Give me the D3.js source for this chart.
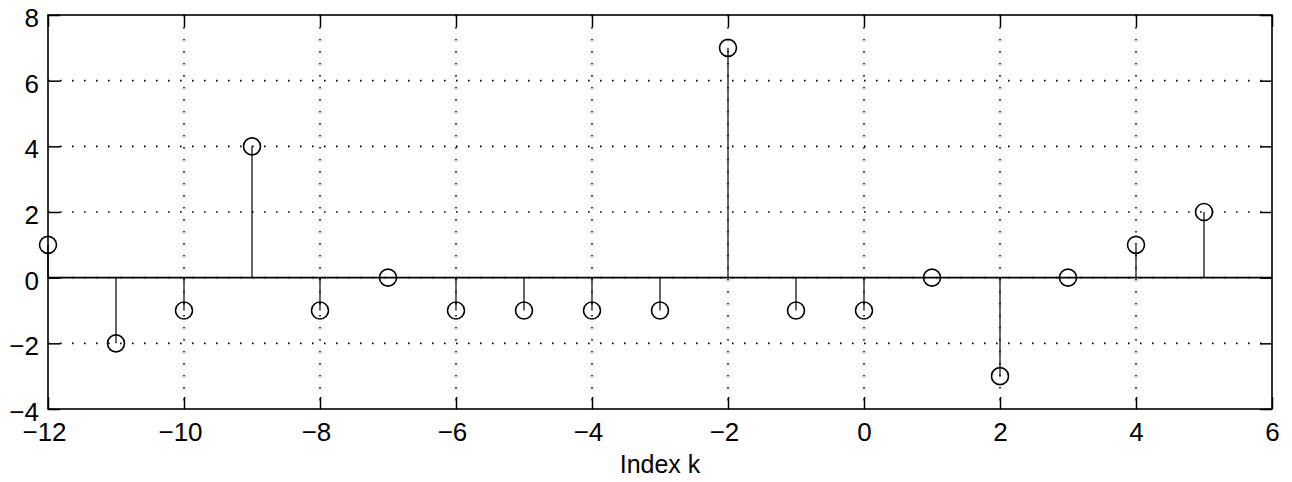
<!DOCTYPE html>
<html lang="en">
<head>
<meta charset="utf-8">
<script src="https://d3js.org/d3.v7.min.js"></script>
<title>Stem plot</title>
<style>
  body { margin: 0; background: #fff; }
  text { font-family: "Liberation Sans", Arial, Helvetica, sans-serif; fill: #000; }
</style>
</head>
<body>
<svg id="chart"></svg>
<script>
  // data
  const indexK = [-12, -11, -10, -9, -8, -7, -6, -5, -4, -3, -2, -1, 0, 1, 2, 3, 4, 5];
  const values = [1, -2, -1, 4, -1, 0, -1, -1, -1, -1, 7, -1, -1, 0, -3, 0, 1, 2];
  const xTicks = [-12, -10, -8, -6, -4, -2, 0, 2, 4, 6];
  const yTicks = [-4, -2, 0, 2, 4, 6, 8];

  const W = 1292, H = 482;
  const m = {left: 48, right: 20, top: 15, bottom: 73};
  const iw = W - m.left - m.right, ih = H - m.top - m.bottom;

  const svg = d3.select("#chart").attr("width", W).attr("height", H);
  const g = svg.append("g").attr("transform", `translate(${m.left},${m.top})`);

  const x = d3.scaleLinear().domain([-12, 6]).range([0, iw]);
  const y = d3.scaleLinear().domain([-4, 8]).range([ih, 0]);

  const fmt = d => d < 0 ? "\u2212" + Math.abs(d) : d;

  // dotted grid
  g.append("g").selectAll("line").data(xTicks.slice(1, -1)).join("line")
    .attr("x1", d => x(d)).attr("x2", d => x(d)).attr("y1", 0).attr("y2", ih)
    .attr("stroke", "#000").attr("stroke-width", 1.6).attr("stroke-dasharray", "1.6,10.4");
  g.append("g").selectAll("line").data(yTicks.slice(1, -1)).join("line")
    .attr("y1", d => y(d)).attr("y2", d => y(d)).attr("x1", 0).attr("x2", iw)
    .attr("stroke", "#000").attr("stroke-width", 1.6).attr("stroke-dasharray", "1.6,10.4");

  // axes with inward ticks
  const tl = 12;
  const xb = g.append("g").attr("transform", `translate(0,${ih})`)
    .call(d3.axisBottom(x).tickValues(xTicks).tickSizeInner(-tl).tickSizeOuter(0).tickPadding(14).tickFormat(fmt));
  const xt = g.append("g")
    .call(d3.axisTop(x).tickValues(xTicks).tickSizeInner(-tl).tickSizeOuter(0).tickFormat(""));
  const yl = g.append("g")
    .call(d3.axisLeft(y).tickValues(yTicks).tickSizeInner(-tl).tickSizeOuter(0).tickPadding(9).tickFormat(fmt));
  const yr = g.append("g").attr("transform", `translate(${iw},0)`)
    .call(d3.axisRight(y).tickValues(yTicks).tickSizeInner(-tl).tickSizeOuter(0).tickFormat(""));
  [xb, xt, yl, yr].forEach(a => {
    a.select(".domain").remove();
    a.selectAll("line").attr("stroke", "#000").attr("stroke-width", 1.5);
    a.selectAll("text").attr("font-size", 26).attr("fill", "#000");
  });
  yl.selectAll("text").attr("dy", "0.44em");
  // negative labels sit a little left of their tick, as in the original
  xb.selectAll("text").attr("dx", d => d < 0 ? -4 : 0);

  // box
  g.append("rect").attr("width", iw).attr("height", ih)
    .attr("fill", "none").attr("stroke", "#000").attr("stroke-width", 1.6);

  // baseline
  g.append("line").attr("x1", 0).attr("x2", iw).attr("y1", y(0)).attr("y2", y(0))
    .attr("stroke", "#000").attr("stroke-width", 1.6);

  // stems
  g.append("g").selectAll("line").data(indexK).join("line")
    .attr("x1", d => x(d)).attr("x2", d => x(d))
    .attr("y1", y(0)).attr("y2", (d, i) => y(values[i]))
    .attr("stroke", "#000").attr("stroke-width", 1.2);
  g.append("g").selectAll("circle").data(indexK).join("circle")
    .attr("cx", d => x(d)).attr("cy", (d, i) => y(values[i])).attr("r", 8.5)
    .attr("fill", "none").attr("stroke", "#000").attr("stroke-width", 1.6);

  // x label
  svg.append("text").attr("x", m.left + iw / 2).attr("y", 473)
    .attr("text-anchor", "middle").attr("font-size", 25).text("Index k");
</script>
</body>
</html>
